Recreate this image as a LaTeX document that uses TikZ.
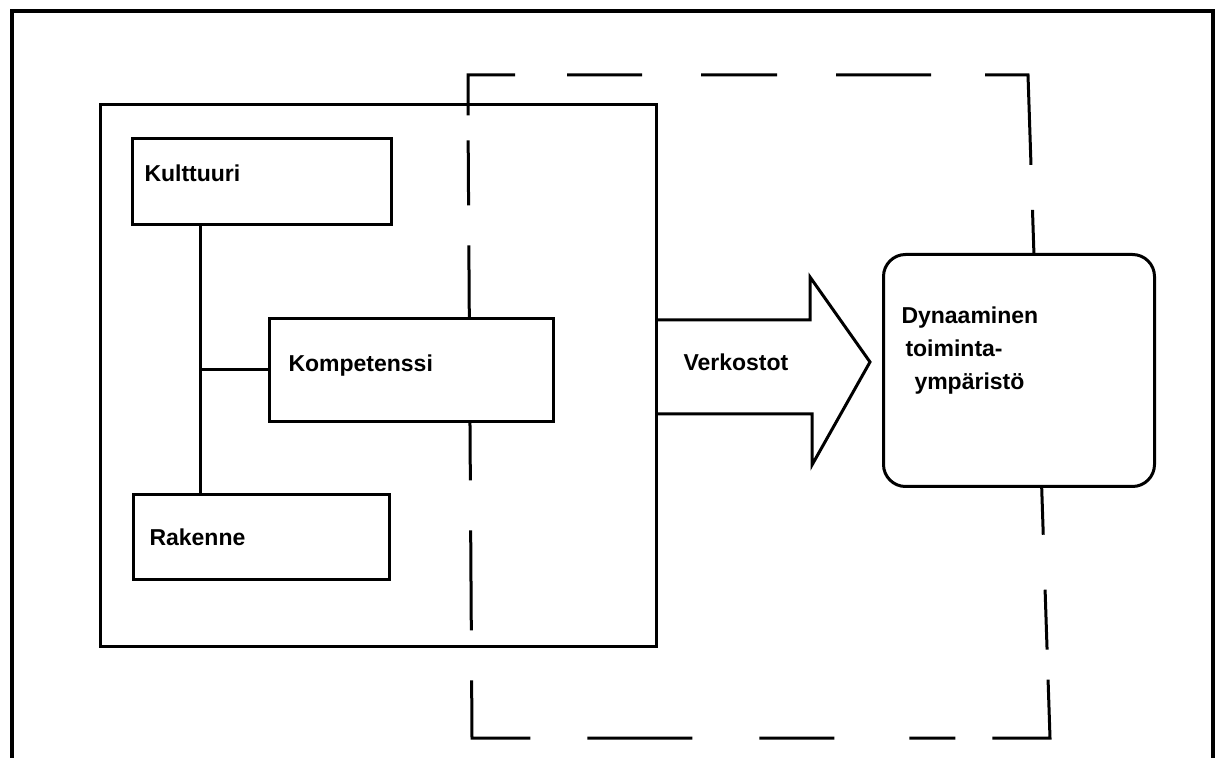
\documentclass[tikz,border=0pt]{standalone}
\usepackage{fontspec}
\setmainfont{Liberation Sans}
\begin{document}
\begin{tikzpicture}[
        x=0.5pt, y=-0.5pt, % 1 unit = 1 pixel of the original
        line width=1.5pt,
        txt/.style={font=\bfseries\fontsize{11.5}{16.5}\selectfont},
        box/.style={draw, rectangle, anchor=north west, align=left, txt},
        dynbox/.style={draw, rectangle, rounded corners=11pt, anchor=north west, fill=white},
        zone/.style={line cap=butt, dash pattern=on 43.5pt off 26pt on 37.5pt off 29.5pt on 38pt off 29.5pt
            on 47.5pt off 27pt on 66.5pt off 22.5pt on 30pt off 75pt on 57.5pt off 27.5pt on 30pt off 15pt
            on 58pt off 18.5pt on 23pt off 37.5pt on 37.5pt off 33.5pt on 52.5pt off 28.5pt
            on 58pt off 25pt on 50pt off 25pt on 117.5pt off 20pt on 32.5pt off 12.5pt},
    ]
    \useasboundingbox (0,0) rectangle (1215,758);

    % outer frame
    \draw[line width=2pt] (12,758) -- (12,11) -- (1213,11) -- (1213,758);

    % dashed zone
    \draw[zone] (468,115) -- (468,75) -- (1028,75) -- (1050,738) -- (472,738) -- cycle;

    % organisation
    \node[draw, rectangle, anchor=north west, minimum width=278pt, minimum height=271pt] (org) at (99,103) {};
    \node[box, minimum width=129.5pt, minimum height=43pt, inner xsep=6pt, text width=117.5pt, text depth=8pt] (kult) at (131,137) {Kulttuuri};
    \node[box, minimum width=128pt, minimum height=42.5pt, inner xsep=8pt, text width=112pt] (rak) at (132,493) {Rakenne};
    \node[box, fill=white, minimum width=142pt, minimum height=51.5pt, inner xsep=9.5pt, text width=123pt, text depth=7pt] (komp) at (268,317) {Kompetenssi};

    \coordinate (spine) at (200,0);
    \draw (kult.south -| spine) -- (rak.north -| spine);
    \draw (spine |- komp.west) -- (komp.west);

    % networks arrow
    \draw[line join=miter] (655,320) -- (810,320) -- (810,277) -- (870,362) -- (812,465) -- (812,414) -- (655,414);
    \node[txt, anchor=west, inner sep=0pt] (verk) at (682,362) {Verkostot};

    % environment
    \node[dynbox, minimum width=135.5pt, minimum height=116pt] (dyn) at (882,253) {};
    \node[txt, anchor=north west, align=left, inner sep=0pt] (dyntxt) at (900,305)
        {Dynaaminen\\\hspace{2pt}toiminta-\\\hspace{6.5pt}ympäristö};
\end{tikzpicture}
\end{document}
